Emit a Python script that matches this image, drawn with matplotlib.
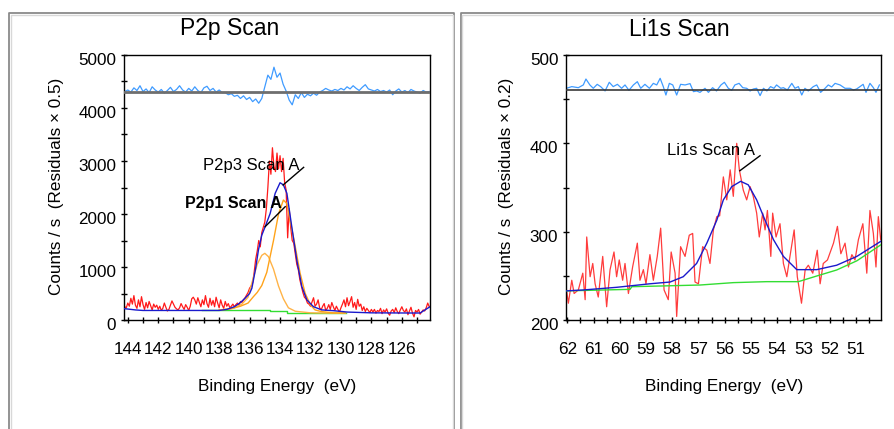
import numpy as np
import matplotlib
matplotlib.use("Agg")
import matplotlib.pyplot as plt
from matplotlib.transforms import ScaledTranslation
from matplotlib.lines import Line2D

plt.rcParams['font.family'] = ['Liberation Sans', 'DejaVu Sans']

# ---------------- P2p scan data ----------------
p2p_start, p2p_step = 144.2, 0.1
p2p_counts = [250, 230, 320, 260, 410, 300, 460, 280, 220, 380, 250, 440, 290, 200, 330, 230, 350, 270, 190, 300, 240, 280, 200,
              260, 180, 220, 320, 240, 170, 200, 280, 360, 300, 240, 210, 190, 230, 310, 250, 200, 290, 240, 180,
              260, 400, 430, 380, 300, 420, 330, 250, 380, 290, 460, 310, 240, 410, 280, 370, 250, 430, 320, 230,
              380, 280, 220, 350, 260, 310, 230, 260, 300, 250, 290, 320, 280, 350, 330, 380, 420, 470, 520, 600,
              640, 700, 900, 1150, 1300, 1500, 1380, 1650, 1750, 1850, 2100, 2500, 3000, 2750, 3250, 2900, 2800, 3150, 2850, 3100,
              2800, 3050, 2600, 2450, 1550, 2100, 1750, 1500, 1450, 1250, 1050, 950, 760, 640, 520, 430, 400, 320, 300, 260,
              340, 420, 260, 300, 380, 230, 190, 260, 310, 180, 220, 290, 200, 330, 250, 180, 260, 200, 150, 230,
              300, 380, 250, 420, 270, 350, 440, 240, 330, 200, 390, 260, 300, 180, 250, 160, 220, 180, 140, 200,
              150, 200, 130, 180, 160, 220, 120, 190, 150, 210, 130, 90, 170, 200, 140, 230, 160, 120, 190, 250,
              180, 150, 210, 100, 170, 240, 130, 60, 180, 150, 200, 110, 150, 190, 170, 230, 320, 250]

p2p_res_start, p2p_res_step = 144.2, 0.2
p2p_resid = [4310, 4340, 4300, 4380, 4330, 4420, 4310, 4360, 4290, 4400, 4340, 4300, 4350, 4280, 4330, 4390, 4310,
             4350, 4420, 4340, 4300, 4370, 4320, 4400, 4330, 4290, 4380, 4410, 4330, 4370, 4300, 4340, 4290,
             4290, 4250, 4270, 4220, 4240, 4180, 4230, 4160, 4200, 4120, 4170, 4090, 4180, 4400, 4620, 4540,
             4770, 4580, 4660, 4450, 4320, 4150, 4060, 4250,
             4180, 4290, 4200, 4260, 4230, 4280, 4240, 4300, 4330, 4370, 4340, 4320, 4350, 4330, 4370, 4340,
             4400, 4360, 4420, 4370, 4330, 4390, 4440, 4360, 4340, 4320, 4350, 4310, 4330, 4300, 4340, 4250,
             4320, 4360, 4300, 4330, 4290, 4350, 4320, 4300, 4280, 4330, 4300, 4310]
p2p_res_zero = 4300

p2p_env_e = [144.25, 143.5, 143.0, 142.0, 138.0, 137.5, 137.0, 136.6, 136.3, 136.0, 135.85, 135.6, 135.42, 135.2,
             134.98, 134.65, 134.32, 134.0, 133.78, 133.55, 133.23, 132.9, 132.57, 132.24, 131.8, 131.25, 130.5,
             129.6, 128.0, 125.5, 124.8, 124.15]
p2p_env_c = [215, 190, 180, 180, 180, 200, 250, 330, 410, 500, 600, 980, 1320, 1600,
             1760, 2010, 2390, 2590, 2550, 2390, 1760, 1130, 630, 380, 250, 190, 176,
             150, 135, 132, 132, 250]

p2p3_e = [138.0, 137.3, 136.6, 136.1, 135.75, 135.5, 135.2, 134.87, 134.43, 134.1, 133.78, 133.56, 133.34, 133.0,
          132.68, 132.35, 132.0, 131.7, 131.3, 130.5, 129.7]
p2p3_c = [188, 205, 260, 320, 440, 520, 650, 900, 1500, 2000, 2264, 2200, 1887, 1383,
          881, 503, 283, 190, 160, 135, 132]

p2p1_e = [138.0, 137.0, 136.5, 136.1, 135.85, 135.5, 135.2, 135.0, 134.76, 134.43, 134.1, 133.78, 133.45, 133.0,
          132.0, 130.5, 129.7]
p2p1_c = [188, 230, 300, 430, 700, 1050, 1220, 1258, 1195, 960, 640, 400, 230, 165,
          135, 130, 130]

p2p_bg_e = [139.15, 134.65, 134.65, 133.55, 133.55, 129.7]
p2p_bg_c = [189, 189, 172, 172, 132, 132]

# ---------------- Li1s scan data ----------------
li_energy = [62.05, 61.96, 61.83, 61.74, 61.58, 61.41, 61.32, 61.26, 61.13, 61.03, 60.94, 60.82, 60.65, 60.50,
             60.37, 60.22, 60.12, 60.02, 59.89, 59.80, 59.67, 59.51, 59.33, 59.23, 59.10, 59.00, 58.85, 58.72,
             58.57, 58.44, 58.31, 58.15, 58.04, 57.89, 57.83, 57.68, 57.51, 57.35, 57.22, 57.13, 57.00, 56.84,
             56.68, 56.56, 56.43, 56.30, 56.19, 56.05, 55.92, 55.79, 55.67, 55.54, 55.44, 55.29, 55.16, 55.03,
             54.91, 54.78, 54.68, 54.55, 54.46, 54.37, 54.24, 54.17, 54.04, 53.89, 53.76, 53.63, 53.51, 53.35,
             53.23, 53.07, 52.93, 52.81, 52.64, 52.47, 52.36, 52.24, 52.08, 51.85, 51.70, 51.57, 51.41, 51.28,
             51.15, 51.03, 50.90, 50.73, 50.58, 50.46, 50.33, 50.23, 50.14, 50.05]
li_counts = [238, 219, 245, 230, 234, 253, 223, 294, 249, 264, 241, 226, 272, 215,
             257, 277, 249, 268, 245, 264, 230, 260, 287, 245, 257, 241, 274, 245,
             272, 304, 234, 223, 277, 253, 204, 283, 272, 296, 298, 243, 241, 283,
             279, 264, 302, 317, 318, 362, 336, 370, 340, 400, 370, 347, 336, 351,
             340, 321, 294, 321, 302, 324, 272, 321, 294, 309, 264, 249, 272, 302,
             249, 219, 257, 262, 253, 279, 241, 264, 268, 287, 306, 275, 287, 260,
             274, 268, 291, 309, 253, 324, 298, 260, 317, 291]

li_res_e = [62.03, 61.83, 61.58, 61.39, 61.29, 61.14, 61.01, 60.86, 60.73, 60.56, 60.40, 60.25, 60.09, 59.93,
            59.80, 59.65, 59.48, 59.33, 59.20, 59.04, 58.87, 58.72, 58.59, 58.46, 58.34, 58.24, 58.11, 57.98,
            57.83, 57.68, 57.51, 57.32, 57.19, 57.07, 56.94, 56.75, 56.62, 56.46, 56.31, 56.14, 56.01, 55.86,
            55.73, 55.61, 55.45, 55.31, 55.16, 55.03, 54.91, 54.78, 54.65, 54.52, 54.39, 54.25, 54.12, 54.02,
            53.86, 53.76, 53.61, 53.44, 53.32, 53.19, 53.06, 52.94, 52.81, 52.62, 52.49, 52.34, 52.17, 52.05,
            51.92, 51.79, 51.60, 51.41, 51.22, 51.09, 50.97, 50.84, 50.72, 50.61, 50.46, 50.33, 50.23, 50.10]
li_res_c = [462.3, 464.2, 463.0, 466.1, 472.8, 466.1, 462.3, 466.8, 464.2, 459.3, 469.1, 464.2, 466.8, 462.3,
            466.1, 460.0, 466.1, 469.8, 462.3, 466.8, 462.3, 467.9, 466.1, 473.6, 464.2, 454.7, 467.9, 466.1,
            454.7, 466.8, 466.1, 467.6, 458.5, 459.3, 457.7, 462.3, 457.7, 463.0, 459.3, 466.1, 469.1, 462.3,
            460.0, 466.1, 467.9, 463.0, 462.3, 459.3, 461.5, 462.3, 454.0, 462.3, 459.3, 464.2, 462.3, 466.1,
            462.3, 463.0, 460.4, 467.9, 462.3, 464.2, 454.7, 462.3, 459.3, 464.2, 466.1, 457.7, 462.3, 466.1,
            463.8, 467.9, 466.1, 462.3, 462.3, 460.4, 461.5, 464.2, 466.8, 457.7, 467.9, 463.0, 457.7, 466.1]
li_res_zero = 460

li_env_e = [62.02, 61.39, 60.12, 58.85, 58.08, 57.58, 57.07, 56.68, 56.30, 56.05, 55.73, 55.39, 55.10, 54.78,
            54.46, 54.14, 53.76, 53.25, 52.49, 51.73, 50.96, 50.05]
li_env_c = [233, 234, 237, 241, 243, 249, 264, 287, 313, 336, 351, 357, 353, 336,
            313, 291, 272, 257, 257, 262, 272, 289]

li_bg_e = [62.02, 59.61, 59.54, 56.94, 55.67, 54.40, 53.19, 52.49, 51.73, 50.96, 50.05]
li_bg_c = [233, 234.7, 237.7, 239.6, 242.3, 243.4, 243.4, 249.8, 256.6, 267, 285]

# ---------------- figure ----------------
fig = plt.figure(figsize=(8.95, 4.29), dpi=100)
W, H = 895, 429

def fx(px):
    return px / W

def fy(py):
    return 1 - py / H

# panel frames
for xs, ys in [([9.5, 9.5, 454, 454], [440, 13, 13, 440]),
               ([460.5, 460.5, 900], [440, 13, 13])]:
    fig.add_artist(Line2D([fx(x) for x in xs], [fy(y) for y in ys], color='#8a8a8a', lw=1.3))
for xs, ys in [([11, 11, 452.5, 452.5], [440, 14.5, 14.5, 440]),
               ([462, 462, 900], [440, 14.5, 14.5])]:
    fig.add_artist(Line2D([fx(x) for x in xs], [fy(y) for y in ys], color='#d8d8d8', lw=1.0))

ax1 = fig.add_axes([fx(124), fy(320), fx(430 - 124), (320 - 55) / H])
ax2 = fig.add_axes([fx(566), fy(320), fx(880.7 - 566), (320 - 55) / H])

red = '#ff1a1a'
env_blue = '#1a1acc'
res_blue = '#3f9bff'
green = '#33dd33'

# P2p plot
p2p_e = p2p_start - p2p_step * np.arange(len(p2p_counts))
p2p_re = p2p_res_start - p2p_res_step * np.arange(len(p2p_resid))
ax1.plot(p2p_e, p2p_counts, color=red, lw=0.9, zorder=2)
ax1.plot(p2p_bg_e, p2p_bg_c, color=green, lw=1.0, zorder=3)
ax1.plot(p2p1_e, p2p1_c, color='#ffb347', lw=1.0, zorder=3)
ax1.plot(p2p3_e, p2p3_c, color='#ffa31a', lw=1.0, zorder=3)
ax1.plot(p2p_env_e, p2p_env_c, color=env_blue, lw=1.0, zorder=4)
ax1.plot(p2p_re, p2p_resid, color=res_blue, lw=0.9, zorder=2)
ax1.axhline(p2p_res_zero, color='#6e6e6e', lw=2.0, zorder=3)
ax1.set_xlim(144.25, 124.15)
ax1.set_ylim(0, 5000)
ax1.set_xticks(np.arange(144, 124, -1))
ax1.set_xticklabels([str(v) if v % 2 == 0 else '' for v in range(144, 124, -1)])
ax1.set_yticks(np.arange(0, 5001, 500))
ax1.set_yticklabels([str(v) if v % 1000 == 0 else '' for v in range(0, 5001, 500)])

ax1.text(139.03, 2906, 'P2p3 Scan A', fontsize=12, ha='left', va='center', zorder=6)
ax1.text(140.24, 2189, 'P2p1 Scan A', fontsize=11.5, fontweight='bold', ha='left', va='center', zorder=6)
ax1.plot([132.45, 133.8], [2880, 2547], color='black', lw=1.0, zorder=6)
ax1.plot([133.66, 134.98], [2138, 1761], color='black', lw=1.0, zorder=6)

# Li1s plot
ax2.plot(li_energy, li_counts, color=red, lw=0.9, alpha=0.85, zorder=2)
ax2.plot(li_bg_e, li_bg_c, color=green, lw=1.0, zorder=3)
ax2.plot(li_env_e, li_env_c, color=env_blue, lw=1.0, zorder=4)
ax2.plot(li_res_e, li_res_c, color=res_blue, lw=0.9, zorder=2)
ax2.axhline(li_res_zero, color='#3a3a3a', lw=1.2, zorder=3)
ax2.set_xlim(62.05, 50.05)
ax2.set_ylim(200, 500)
ax2.set_xticks(np.arange(62, 50.4, -0.5))
ax2.set_xticklabels([str(int(v)) if v == int(v) else '' for v in np.arange(62, 50.4, -0.5)])
ax2.set_yticks(np.arange(200, 501, 50))
ax2.set_yticklabels([str(v) if v % 100 == 0 else '' for v in range(200, 501, 50)])

ax2.text(58.21, 392, 'Li1s Scan A', fontsize=12, ha='left', va='center', zorder=6)
ax2.plot([54.65, 55.42], [386, 369], color='black', lw=1.0, zorder=6)

shift = ScaledTranslation(0, -4 / 100, fig.dpi_scale_trans)
for ax in (ax1, ax2):
    for s in ax.spines.values():
        s.set_color('black')
        s.set_linewidth(1.0)
    ax.tick_params(axis='x', direction='inout', length=5, width=1, pad=13, labelsize=12.3)
    ax.tick_params(axis='y', direction='inout', length=5, width=1, pad=3, labelsize=12.3)
    for lab in ax.get_yticklabels():
        lab.set_transform(lab.get_transform() + shift)

# titles and axis labels
fig.text(fx(230), fy(29), 'P2p Scan', fontsize=16.5, ha='center', va='center')
fig.text(fx(679), fy(29), 'Li1s Scan', fontsize=16.5, ha='center', va='center')
fig.text(fx(277), fy(386.7), 'Binding Energy  (eV)', fontsize=12.3, ha='center', va='center')
fig.text(fx(724), fy(386.7), 'Binding Energy  (eV)', fontsize=12.3, ha='center', va='center')
fig.text(fx(56.7), fy(186.7), 'Counts / s  (Residuals \u00d7 0.5)', fontsize=12.3, rotation=90, ha='center', va='center')
fig.text(fx(506.7), fy(186.7), 'Counts / s  (Residuals \u00d7 0.2)', fontsize=12.3, rotation=90, ha='center', va='center')

fig.savefig('out.png', dpi=100)
